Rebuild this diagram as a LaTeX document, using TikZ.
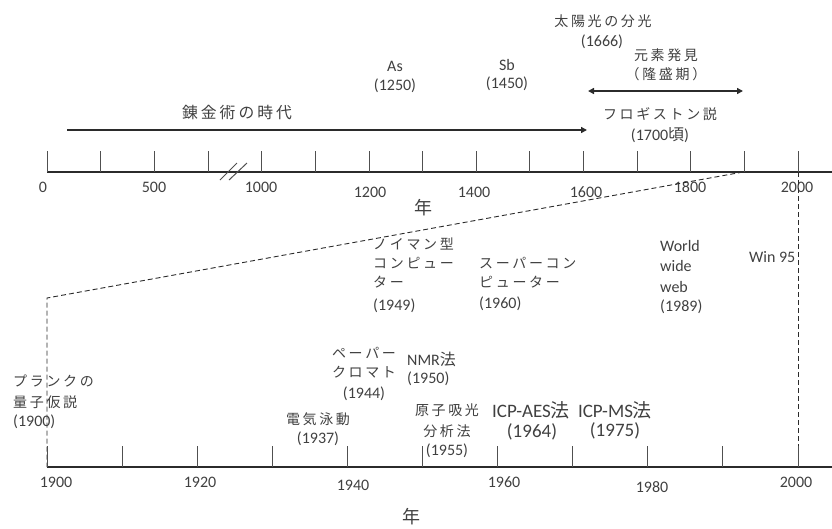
\documentclass[tikz,border=0pt]{standalone}
\usepackage{fontspec}
\setmainfont{Carlito}
\newfontfamily\jp[LetterSpace=19]{Noto Sans CJK JP}
\usetikzlibrary{arrows.meta}
\definecolor{txt}{HTML}{404040}
\definecolor{ln}{HTML}{2B2B2B}
\definecolor{tk}{HTML}{505050}
\tikzset{
  lat/.style={inner sep=0pt, text=txt, font=\fontsize{16}{19}\selectfont},
  big/.style={inner sep=0pt, text=txt, font=\fontsize{19}{22}\selectfont},
  jpn/.style={inner sep=0pt, text=txt, font=\fontsize{14}{17}\selectfont\jp},
  jpbig/.style={inner sep=0pt, text=txt, font=\fontsize{15.8}{19}\selectfont\jp},
  nen/.style={inner sep=0pt, text=txt, font=\fontsize{18}{20}\selectfont\jp},
  axis/.style={draw=ln, line width=2.5pt},
  tick/.style={draw=tk, line width=1pt},
  period/.style={draw=ln, line width=2pt},
  guide/.style={draw=ln, line width=0.9pt, dash pattern=on 5pt off 3pt},
}
\begin{document}
\begin{tikzpicture}[x=1pt,y=-1pt]
\useasboundingbox (0,0) rectangle (832,528);

% ---------- top axis ----------
\coordinate (t0) at (47,172);
\coordinate (tend) at (832,172);
\draw[axis] (t0) -- (tend);
\foreach \x in {47,100,154,208,261,315,369,422,476,529,583,637,690,744,798}
  \draw[tick] (\x,151) -- (\x,172);
\coordinate (b1a) at (220,180); \coordinate (b1b) at (237,163);
\coordinate (b2a) at (229,180); \coordinate (b2b) at (247,163);
\draw[tk, line width=1pt] (b1a) -- (b1b);
\draw[tk, line width=1pt] (b2a) -- (b2b);

\node[lat] (y0) at (43,187) {0};
\node[lat] (y500) at (154,187) {500};
\node[lat] (y1000) at (261,187) {1000};
\node[lat] (y1200) at (370,192) {1200};
\node[lat] (y1400) at (474,192) {1400};
\node[lat] (y1600) at (586,192) {1600};
\node[lat] (y1800) at (690,187) {1800};
\node[lat] (y2000) at (797,187) {2000};
\node[nen] (nenA) at (423,208) {年};

% alchemy
\coordinate (alA) at (67,130);
\coordinate (alB) at (587,130);
\draw[period, -{Triangle[length=6pt,width=6pt]}] (alA) -- (alB);
\node[jpbig] (alch) at (237,112) {錬金術の時代};

\node[lat] (as1) at (395,66) {As};
\node[lat] (as2) at (395,86) {(1250)};
\node[lat] (sb1) at (507,65) {Sb};
\node[lat] (sb2) at (507,84) {(1450)};
\node[jpn] (sun1) at (603,21) {太陽光の分光};
\node[lat] (sun2) at (602,42) {(1666)};
\node[jpn] (el1) at (666,55) {元素発見};
\node[jpn] (el2) at (666,74) {（隆盛期）};
\coordinate (elA) at (588,91);
\coordinate (elB) at (743,91);
\draw[period, {Triangle[length=6pt,width=6pt]}-{Triangle[length=6pt,width=6pt]}] (elA) -- (elB);
\node[jpn] (ph1) at (660,114) {フロギストン説};
\node[lat] (ph2) at (660,135) {(1700{\jp 頃})};

% ---------- zoom guides ----------
\coordinate (g1) at (743,172);
\coordinate (g2) at (47,298);
\coordinate (g3) at (47,467);
\coordinate (g4) at (798,172);
\coordinate (g5) at (798,467);
\draw[guide] (g1) -- (g2) -- (g3);
\draw[guide] (g4) -- (g5);

% ---------- bottom axis ----------
\coordinate (u0) at (47,467);
\coordinate (uend) at (832,467);
\draw[axis] (u0) -- (uend);
\foreach \x in {47,122,197,272,347,422,497,572,647,722,798}
  \draw[tick] (\x,446) -- (\x,467);
\node[lat] (z1900) at (56,482) {1900};
\node[lat] (z1920) at (200,482) {1920};
\node[lat] (z1940) at (353,485) {1940};
\node[lat] (z1960) at (504,482) {1960};
\node[lat] (z1980) at (652,487) {1980};
\node[lat] (z2000) at (796,482) {2000};
\node[nen] (nenB) at (411,517) {年};

% events
\node[jpn, anchor=west] (pl1) at (13,381) {プランクの};
\node[jpn, anchor=west] (pl2) at (13,402) {量子仮説};
\node[lat, anchor=west] (pl3) at (13,422) {(1900)};

\node[jpn] (ep1) at (318,419) {電気泳動};
\node[lat] (ep2) at (318,439) {(1937)};

\node[jpn] (pc1) at (364,353) {ペーパー};
\node[jpn] (pc2) at (364,372) {クロマト};
\node[lat] (pc3) at (364,394) {(1944)};

\node[lat, anchor=west] (nm1) at (407,359) {NMR{\jp 法}};
\node[lat, anchor=west] (nm2) at (407,379) {(1950)};

\node[jpn] (aa1) at (447,410) {原子吸光};
\node[jpn] (aa2) at (447,431) {分析法};
\node[lat] (aa3) at (447,451) {(1955)};

\node[big] (ia1) at (531,410) {ICP-AES{\jp 法}};
\node[big] (ia2) at (532,432) {(1964)};
\node[big] (im1) at (615,410) {ICP-MS{\jp 法}};
\node[big] (im2) at (615,431) {(1975)};

\node[jpn, anchor=west] (nc1) at (373,244) {ノイマン型};
\node[jpn, anchor=west] (nc2) at (373,263) {コンピュー};
\node[jpn, anchor=west] (nc3) at (373,282) {ター};
\node[lat, anchor=west] (nc4) at (373,306) {(1949)};

\node[jpn, anchor=west] (sc1) at (479,263) {スーパーコン};
\node[jpn, anchor=west] (sc2) at (479,282) {ピューター};
\node[lat, anchor=west] (sc3) at (479,304) {(1960)};

\node[lat, anchor=west] (ww1) at (660,246) {World};
\node[lat, anchor=west] (ww2) at (660,266) {wide};
\node[lat, anchor=west] (ww3) at (660,287) {web};
\node[lat, anchor=west] (ww4) at (660,307) {(1989)};

\node[lat, anchor=west] (win) at (749,257) {Win 95};
\end{tikzpicture}
\end{document}
